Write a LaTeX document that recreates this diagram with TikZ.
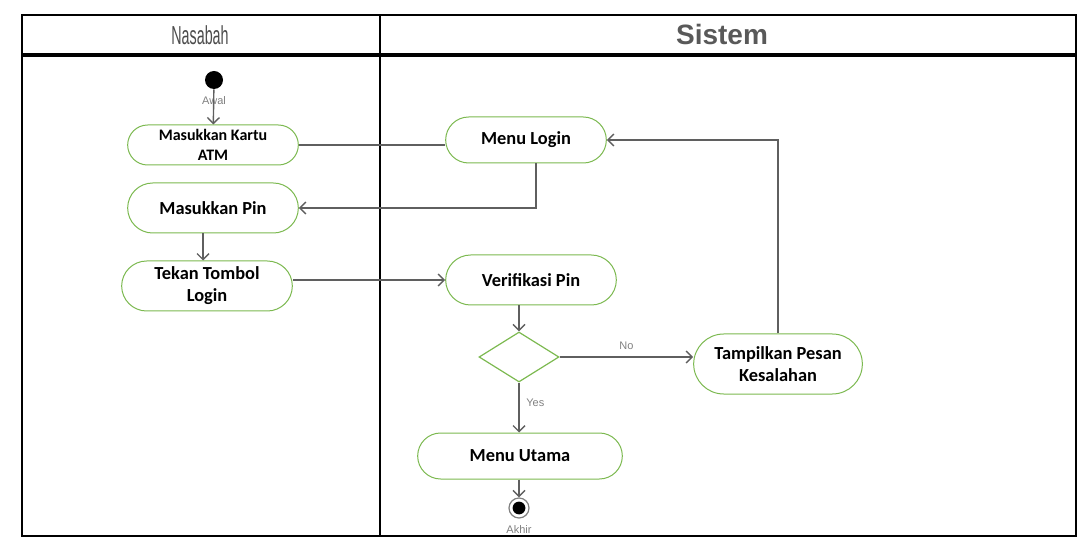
\documentclass[tikz,border=0pt]{standalone}
\usepackage{fontspec}
\usepackage{graphicx}
\setmainfont{Carlito}
\newfontfamily\lanefont{Liberation Sans}
\usetikzlibrary{shapes.misc,shapes.geometric,arrows.meta}
\definecolor{actgreen}{HTML}{7CB950}
\definecolor{flowgray}{HTML}{5F5F5F}
\begin{document}
\begin{tikzpicture}[x=0.5pt,y=-0.5pt,
    act/.style={rounded rectangle,draw=actgreen,line width=0.5pt,fill=white,
        minimum width=92pt,minimum height=23pt,inner ysep=1pt,align=center,
        font=\fontsize{9.2}{11}\selectfont\bfseries},
    flow/.style={draw=flowgray,line width=0.7pt,-{Straight Barb[length=3pt,width=6pt]}},
    tag/.style={font=\lanefont\fontsize{5.5}{6}\selectfont,text=gray}]
    \useasboundingbox (0,0) rectangle (1086,555);
    % Draw swimlane frame
    \draw[line width=1.2pt] (22,15) rectangle (1076,536);
    \draw[line width=2pt] (22,55) -- (1076,55);
    \draw[line width=1.2pt] (380,15) -- (380,536);
    \node[font=\lanefont\fontsize{13}{15}\selectfont,text=black!70] (nasabah) at (200,35) {\scalebox{0.55}[1]{Nasabah}};
    \node[font=\lanefont\fontsize{14}{16}\selectfont\bfseries,text=black!65] (sistem) at (722,34) {Sistem};
    % Draw start and end
    \node[circle,fill=black,minimum size=9pt,inner sep=0pt] (awal) at (214,80) {};
    \node[tag,anchor=north] at (awal.south) {Awal};
    \node[circle,draw=gray,line width=0.6pt,minimum size=10pt,inner sep=0pt] (akhir) at (519,508) {};
    \fill (akhir) circle[radius=3.2pt];
    \node[tag,anchor=north] at (akhir.south) {Akhir};
    % Draw activities
    \node[act,minimum height=20pt,font=\fontsize{8}{10}\selectfont\bfseries] (kartu) at (213,145) {Masukkan Kartu\\ATM};
    \node[act,minimum height=25pt] (pin) at (213,208) {Masukkan Pin};
    \node[act,minimum height=25pt] (tombol) at (207,286) {Tekan Tombol\\Login};
    \node[act,minimum width=87pt] (login) at (526,140) {Menu Login};
    \node[act,minimum height=25pt] (verif) at (531,280) {Verifikasi Pin};
    \node[diamond,draw=actgreen,line width=0.6pt,aspect=1.6,inner sep=0pt,
        minimum width=40pt,minimum height=25pt] (cek) at (519,357) {};
    \node[act,minimum width=91pt,minimum height=30pt] (tampil) at (778,364) {Tampilkan Pesan\\Kesalahan};
    \node[act,minimum width=109pt] (utama) at (520,456) {Menu Utama};
    % Draw flows
    \draw[flow] (awal) -- (kartu);
    \draw[flow,-] (kartu.east) -- (kartu.east -| login.west);
    \draw[flow] ([xshift=5pt]login.south) |- (pin.east);
    \draw[flow] ([xshift=-5pt]pin.south) -- ([xshift=-5pt]pin.south |- tombol.north);
    \draw[flow] (tombol.east |- verif.west) -- (verif.west);
    \draw[flow] (cek.north |- verif.south) -- (cek.north);
    \draw[flow] (cek.east) -- node[tag,above,pos=0.5] {No} (cek.east -| tampil.west);
    \draw[flow] (cek.south) -- node[tag,right,pos=0.4] {Yes} (utama.north -| cek.south);
    \draw[flow] (tampil.north) |- (login.east);
    \draw[flow] (utama.south -| akhir.north) -- (akhir.north);
\end{tikzpicture}
\end{document}
